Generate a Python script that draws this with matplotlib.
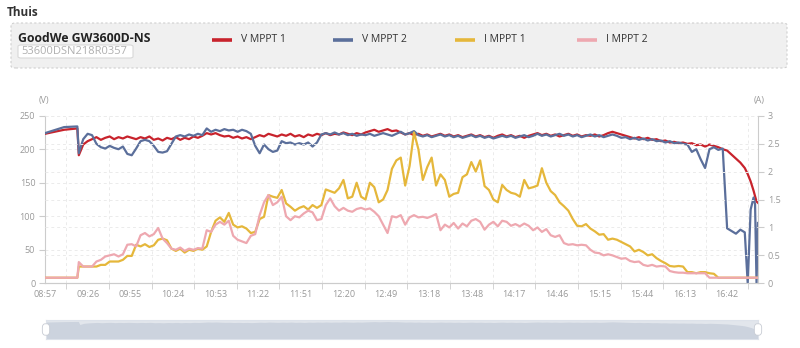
import matplotlib
matplotlib.use("Agg")
import matplotlib.pyplot as plt
from matplotlib.lines import Line2D
from matplotlib.patches import FancyBboxPatch
import numpy as np

plt.rcParams['font.family'] = ['Open Sans', 'DejaVu Sans']

# sample times, minutes after 08:57
minutes = [0, 13, 22] + list(range(23, 476, 3)) + [476, 478, 480, 482, 483, 484, 485]

time_labels = ['08:57', '09:26', '09:55', '10:24', '10:53', '11:22', '11:51', '12:20', '12:49',
               '13:18', '13:48', '14:17', '14:46', '15:15', '15:44', '16:13', '16:42']

v_mppt1 = [223, 229, 231, 191, 207, 212, 215, 218, 214, 217, 219, 215, 218, 216, 219, 217,
           215, 218, 216, 219, 214, 216, 213, 217, 215, 218, 214, 217, 215, 219, 217, 220,
           224, 222, 224, 221, 219, 220, 217, 219, 216, 218, 215, 218, 221, 219, 223, 221,
           219, 222, 220, 223, 219, 221, 218, 222, 220, 223, 221, 224, 221, 223, 222, 225,
           223, 221, 224, 222, 225, 227, 229, 226, 228, 230, 227, 228, 225, 222, 224, 221,
           223, 220, 222, 219, 221, 223, 220, 222, 219, 221, 218, 220, 222, 219, 221, 218,
           220, 217, 220, 222, 219, 221, 218, 220, 217, 220, 222, 224, 221, 223, 220, 222,
           219, 221, 223, 220, 222, 219, 221, 220, 222, 219, 221, 224, 226, 224, 222, 220,
           218, 216, 218, 215, 217, 214, 215, 212, 213, 210, 211, 209, 210, 208, 209, 206,
           207, 204, 207, 205, 203, 200, 198, 192, 186, 180, 172, 163, 152, 138, 130, 122, 120]

v_mppt2 = [224, 233, 234, 194, 215, 223, 221, 208, 203, 201, 205, 202, 200, 204, 193, 191,
           201, 212, 214, 212, 205, 196, 195, 197, 208, 219, 221, 219, 222, 220, 223, 221,
           231, 226, 229, 227, 230, 228, 229, 226, 229, 227, 223, 205, 194, 207, 200, 196,
           198, 212, 209, 210, 207, 209, 207, 210, 204, 210, 222, 224, 222, 225, 222, 224,
           221, 223, 220, 222, 221, 223, 220, 222, 224, 222, 220, 223, 226, 222, 224, 227,
           221, 219, 221, 218, 220, 222, 219, 221, 218, 220, 217, 219, 221, 218, 220, 217,
           219, 216, 218, 220, 218, 220, 217, 219, 221, 218, 220, 223, 220, 222, 219, 221,
           223, 220, 222, 219, 221, 218, 220, 222, 219, 221, 218, 220, 222, 220, 217, 218,
           215, 217, 214, 216, 213, 215, 212, 213, 210, 212, 209, 210, 208, 207, 196, 200,
           185, 172, 200, 203, 199, 201, 82, 78, 74, 80, 76, 0, 110, 128, 118, 0, 90]

i_mppt1 = [0.1, 0.1, 0.1, 0.3, 0.3, 0.3, 0.3, 0.3, 0.33, 0.33, 0.39, 0.39, 0.39, 0.42, 0.49, 0.49,
           0.69, 0.66, 0.7, 0.65, 0.68, 0.78, 0.8, 0.77, 0.62, 0.58, 0.62, 0.55, 0.6, 0.58, 0.62, 0.6,
           0.66, 0.92, 1.12, 1.18, 1.1, 1.26, 1.05, 1.0, 1.02, 0.98, 0.9, 0.92, 1.15, 1.19, 1.58, 1.55,
           1.53, 1.67, 1.43, 1.37, 1.3, 1.35, 1.38, 1.32, 1.4, 1.35, 1.4, 1.68, 1.65, 1.62, 1.7, 1.85,
           1.52, 1.55, 1.8, 1.55, 1.5, 1.8, 1.72, 1.45, 1.5, 1.67, 2.05, 2.2, 2.25, 1.75, 2.1, 2.7,
           2.4, 1.85, 2.08, 2.25, 1.75, 1.95, 1.85, 1.55, 1.6, 1.62, 1.9, 1.95, 2.17, 2.0, 2.2, 1.74,
           1.67, 1.5, 1.45, 1.76, 1.67, 1.62, 1.6, 1.55, 1.85, 1.7, 1.72, 1.75, 2.06, 1.8, 1.65, 1.58,
           1.45, 1.38, 1.3, 1.15, 1.03, 1.02, 1.06, 0.98, 0.93, 0.87, 0.88, 0.78, 0.8, 0.78, 0.74, 0.7,
           0.66, 0.57, 0.6, 0.56, 0.5, 0.52, 0.45, 0.4, 0.36, 0.31, 0.3, 0.31, 0.3, 0.2, 0.2, 0.18,
           0.2, 0.2, 0.18, 0.17, 0.1, 0.1, 0.1, 0.1, 0.1, 0.1, 0.1, 0.1, 0.1, 0.1, 0.1, 0.1, 0.1]

i_mppt2 = [0.1, 0.1, 0.1, 0.38, 0.3, 0.3, 0.3, 0.39, 0.42, 0.48, 0.5, 0.52, 0.48, 0.52, 0.69, 0.7,
           0.66, 0.86, 0.9, 0.84, 0.88, 0.99, 0.8, 0.72, 0.62, 0.6, 0.64, 0.58, 0.62, 0.6, 0.63, 0.62,
           0.95, 0.92, 1.05, 1.1, 1.05, 1.12, 0.85, 0.78, 0.75, 0.72, 0.85, 0.88, 1.22, 1.45, 1.58, 1.4,
           1.45, 1.55, 1.2, 1.13, 1.2, 1.18, 1.25, 1.3, 1.27, 1.13, 1.15, 1.4, 1.52, 1.38, 1.3, 1.35,
           1.3, 1.28, 1.33, 1.35, 1.32, 1.34, 1.28, 1.2, 1.05, 0.9, 1.2, 1.18, 1.22, 1.05, 1.18, 1.22,
           1.18, 1.19, 1.17, 1.2, 1.24, 0.95, 1.05, 1.0, 1.08, 0.98, 1.07, 1.02, 1.12, 1.15, 1.1, 0.96,
           1.05, 1.1, 1.02, 1.12, 1.1, 1.03, 1.06, 1.02, 1.07, 1.03, 0.95, 1.0, 0.92, 0.97, 0.86, 0.83,
           0.86, 0.72, 0.69, 0.7, 0.68, 0.69, 0.68, 0.6, 0.55, 0.54, 0.5, 0.52, 0.5, 0.47, 0.44, 0.45,
           0.4, 0.38, 0.39, 0.33, 0.31, 0.33, 0.3, 0.31, 0.3, 0.22, 0.2, 0.19, 0.19, 0.18, 0.18, 0.18,
           0.18, 0.18, 0.1, 0.1, 0.1, 0.1, 0.1, 0.1, 0.1, 0.1, 0.1, 0.1, 0.1, 0.1, 0.1, 0.1, 0.1]

series_names = ['V MPPT 1', 'V MPPT 2', 'I MPPT 1', 'I MPPT 2']
colors = ['#c8232c', '#5b6f9b', '#e5b73b', '#eea8b0']

W, H = 800, 348
fig = plt.figure(figsize=(8, 3.48), dpi=100)


def fx(px):
    return px / W


def fy(py):
    return 1 - py / H


# header
fig.text(fx(7), fy(12), 'Thuis', fontsize=8.5, fontweight='bold', color='#333333', va='center')
box = FancyBboxPatch((fx(11), fy(68)), fx(776), 45 / H, boxstyle='round,pad=0,rounding_size=0.006',
                     transform=fig.transFigure, facecolor='#f0f0f0', edgecolor='#cfcfcf',
                     linestyle=(0, (2, 2)), lw=0.8)
fig.patches.append(box)
fig.text(fx(18), fy(38), 'GoodWe GW3600D-NS', fontsize=8.8, fontweight='bold', color='#222222', va='center')
serial = FancyBboxPatch((fx(18), fy(58)), fx(115), 13 / H, boxstyle='round,pad=0,rounding_size=0.004',
                        transform=fig.transFigure, facecolor='white', edgecolor='#d8d8d8', lw=0.8)
fig.patches.append(serial)
fig.text(fx(21), fy(51.5), '53600DSN218R0357', fontsize=8, color='#b0b0b0', va='center')

# legend
leg_x = [212, 333, 455, 577]
for lx, name, c in zip(leg_x, series_names, colors):
    fig.lines.append(Line2D([fx(lx), fx(lx + 20)], [fy(40), fy(40)], transform=fig.transFigure,
                            color=c, lw=2.6, solid_capstyle='butt'))
    fig.text(fx(lx + 29), fy(40), name, fontsize=7.5, color='#333333', va='center')

# main chart
ax = fig.add_axes([fx(45), fy(283.3), fx(713), (283.3 - 115.7) / H])
ax2 = ax.twinx()

ax.plot(minutes, v_mppt1, color=colors[0], lw=1.6, zorder=3)
ax.plot(minutes, v_mppt2, color=colors[1], lw=1.6, zorder=4)
ax2.plot(minutes, i_mppt1, color=colors[2], lw=1.6, zorder=3)
ax2.plot(minutes, i_mppt2, color=colors[3], lw=1.6, zorder=4)

ax.set_xlim(0, 485)
ax.set_ylim(0, 250)
ax2.set_ylim(0, 3)

tick_pos = [i * 29 for i in range(len(time_labels))]
ax.set_xticks(tick_pos)
ax.set_xticklabels(time_labels)
ax.set_xticks([p + 14.5 for p in tick_pos], minor=True)
ax.tick_params(axis='x', which='major', length=0, labelsize=6.5, labelcolor='#999999', pad=5)
ax.tick_params(axis='x', which='minor', length=4, color='#cccccc')
ax.grid(True, axis='x', which='minor', color='#ebebeb', linestyle=(0, (3, 3)), lw=0.7)

ax.set_yticks([0, 50, 100, 150, 200, 250])
ax.tick_params(axis='y', length=4, color='#cccccc', labelsize=6.5, labelcolor='#999999', pad=3)
ax.grid(True, axis='y', color='#ebebeb', linestyle=(0, (3, 3)), lw=0.7)

ax2.set_yticks([0, 0.5, 1, 1.5, 2, 2.5, 3])
ax2.set_yticklabels(['0', '0.5', '1', '1.5', '2', '2.5', '3'])
ax2.tick_params(axis='y', length=4, color='#cccccc', labelsize=6.5, labelcolor='#999999', pad=3)
ax2.grid(True, axis='y', color='#ebebeb', linestyle=(0, (3, 3)), lw=0.7)

for a in (ax, ax2):
    a.set_axisbelow(True)
    a.spines['top'].set_visible(False)
    for s in ('left', 'right', 'bottom'):
        a.spines[s].set_color('#cccccc')
        a.spines[s].set_linewidth(0.8)
ax.spines['right'].set_visible(False)
ax2.spines['left'].set_visible(False)

fig.text(fx(44), fy(101), '(V)', fontsize=6.5, color='#999999', ha='center', va='center')
fig.text(fx(759), fy(101), '(A)', fontsize=6.5, color='#999999', ha='center', va='center')

# data zoom slider
sl = fig.add_axes([fx(46), fy(339), fx(712), 19 / H])
sl.set_facecolor('#e2e6ec')
sl.fill_between(minutes, v_mppt1, 0, color='#ccd3de', lw=0)
sl.set_xlim(0, 485)
sl.set_ylim(0, 250)
sl.set_xticks([])
sl.set_yticks([])
for s in sl.spines.values():
    s.set_color('#dde2ea')
    s.set_linewidth(0.8)
for hx in (0, 485):
    handle = FancyBboxPatch((hx - 2.5, 50), 5, 150, boxstyle='round,pad=0,rounding_size=2',
                            facecolor='white', edgecolor='#c8ccd4', lw=0.6, clip_on=False,
                            zorder=5, mutation_aspect=25)
    sl.add_patch(handle)

fig.savefig('out.png', dpi=100)
